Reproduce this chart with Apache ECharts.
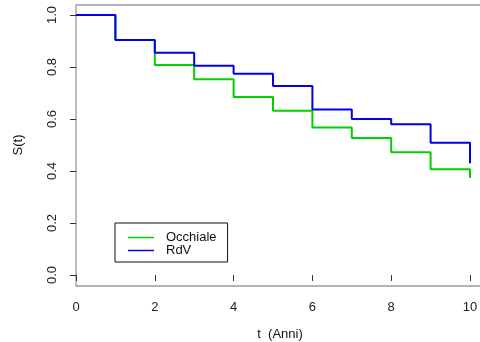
<!DOCTYPE html>
<html><head><meta charset="utf-8">
<script src="https://cdn.jsdelivr.net/npm/echarts@6/dist/echarts.min.js"></script>
<style>html,body{margin:0;padding:0;background:#fff}#c{width:480px;height:342px}</style>
</head><body><div id="c"></div>
<script>
var times = [0, 1, 2, 3, 4, 5, 6, 7, 8, 9, 10];
var occhiale = [1.0, 0.904, 0.808, 0.753, 0.685, 0.632, 0.567, 0.527, 0.472, 0.407, 0.373];
var rdv = [1.0, 0.904, 0.855, 0.805, 0.774, 0.727, 0.637, 0.600, 0.580, 0.509, 0.430];
var xTicks = [0, 2, 4, 6, 8, 10];
var yTicks = [0.0, 0.2, 0.4, 0.6, 0.8, 1.0];

var font = 'Liberation Sans, Arial, sans-serif';
function pairs(xs, ys){ return xs.map(function(x,i){ return [x, ys[i]]; }); }

var chart = echarts.init(document.getElementById('c'), null, {renderer:'canvas'});
chart.setOption({
  animation: false,
  backgroundColor: '#fff',
  grid: [
    {left: 76, right: 10, top: 15, bottom: 67, outerBoundsMode: 'none', containLabel: false},
    {left: 76, width: 420, top: 5, bottom: 56, outerBoundsMode: 'none', containLabel: false,
     show: true, borderColor: '#9a9a9a', borderWidth: 1.3, backgroundColor: 'transparent'}
  ],
  xAxis: [
    {type: 'value', gridIndex: 0, min: 0, max: 10, interval: 2, offset: 11,
     axisLine: {show: false}, splitLine: {show: false},
     axisTick: {show: true, length: 6, lineStyle: {color: '#333', width: 1}},
     axisLabel: {margin: 15, color: '#222', fontFamily: font, fontSize: 13,
       formatter: function(v){ return xTicks.indexOf(v) >= 0 ? String(v) : ''; }},
     name: 't  (Anni)', nameLocation: 'middle', nameGap: 42,
     nameTextStyle: {color: '#111', fontFamily: font, fontSize: 13, padding: [0,0,0,14]}},
    {type: 'value', gridIndex: 1, show: false, min: 0, max: 1}
  ],
  yAxis: [
    {type: 'value', gridIndex: 0, min: 0, max: 1, interval: 0.2, offset: 2,
     axisLine: {show: false}, splitLine: {show: false},
     axisTick: {show: true, length: 6, lineStyle: {color: '#333', width: 1}},
     axisLabel: {rotate: 90, margin: 15, color: '#222', fontFamily: font, fontSize: 13,
       formatter: function(v){ return v.toFixed(1); }},
     name: 'S(t)', nameLocation: 'middle', nameGap: 49, nameRotate: 90,
     nameTextStyle: {color: '#111', fontFamily: font, fontSize: 13}},
    {type: 'value', gridIndex: 1, show: false, min: 0, max: 1}
  ],
  legend: {
    orient: 'vertical', left: 115, top: 223,
    borderColor: '#111', borderWidth: 1, borderRadius: 0,
    padding: [8, 11, 5, 13], itemGap: 0,
    itemWidth: 26, itemHeight: 1.5, icon: 'rect',
    textStyle: {color: '#111', fontFamily: font, fontSize: 13, lineHeight: 12, padding: [0,0,0,7]},
    data: ['Occhiale', 'RdV']
  },
  series: [
    {name: 'Occhiale', type: 'line', step: 'end', xAxisIndex: 0, yAxisIndex: 0,
     data: pairs(times, occhiale), showSymbol: false, symbol: 'none',
     lineStyle: {color: '#00d000', width: 2}, itemStyle: {color: '#00d000'}},
    {name: 'RdV', type: 'line', step: 'end', xAxisIndex: 0, yAxisIndex: 0,
     data: pairs(times, rdv), showSymbol: false, symbol: 'none',
     lineStyle: {color: '#0000ee', width: 2}, itemStyle: {color: '#0000ee'}}
  ]
});
</script></body></html>
